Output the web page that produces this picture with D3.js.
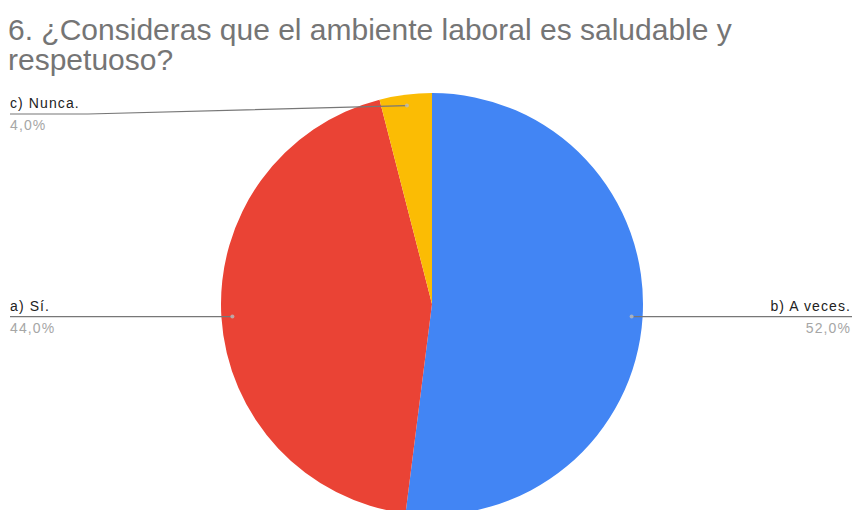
<!DOCTYPE html>
<html>
<head>
<meta charset="utf-8">
<script src="https://cdn.jsdelivr.net/npm/d3@7"></script>
<style>
  html, body { margin: 0; padding: 0; background: #fff; }
  svg { display: block; font-family: "Liberation Sans", Arial, sans-serif; }
</style>
</head>
<body>
<svg id="chart" width="857" height="510"></svg>
<script>
// Survey answers, in drawing order (clockwise from 12 o'clock)
const categories = ["b) A veces.", "a) Sí.", "c) Nunca."];
const percentages = [52.0, 44.0, 4.0];
const colors = ["#4285F4", "#EA4335", "#FBBC04"];
const titleLines = ["6. ¿Consideras que el ambiente laboral es saludable y", "respetuoso?"];

const W = 857, H = 510;
const svg = d3.select("#chart");

// Title, two lines
titleLines.forEach((line, i) => {
  svg.append("text")
    .attr("x", 8).attr("y", 40 + i * 30)
    .attr("fill", "#757575")
    .attr("font-size", 30)
    .text(line);
});

const cx = 432, cy = 304, r = 211;
const data = categories.map((c, i) => ({ label: c, value: percentages[i], color: colors[i] }));

const pie = d3.pie().value(d => d.value).sort(null);
const arc = d3.arc().innerRadius(0).outerRadius(r);
const arcs = pie(data);

const g = svg.append("g").attr("transform", `translate(${cx},${cy})`);
g.selectAll("path.slice").data(arcs).join("path")
  .attr("class", "slice")
  .attr("d", arc)
  .attr("fill", d => d.data.color);

// Leader points sit just inside the rim at each slice's mid angle
const dotR = r - 11;
const fmt = v => d3.format(".1f")(v).replace(".", ",") + "%";

arcs.forEach(a => {
  const mid = (a.startAngle + a.endAngle) / 2;
  const px = cx + dotR * Math.sin(mid);
  const py = cy - dotR * Math.cos(mid);
  const right = Math.sin(mid) > 0;
  const top = Math.cos(mid) > 0.5;

  let lineY, pts, tx, anchor;
  if (top) {
    lineY = 114;
    pts = [[10, lineY], [88, lineY], [px, py]];
    tx = 10; anchor = "start";
  } else {
    lineY = py;
    pts = right ? [[px, py], [852, lineY]] : [[10, lineY], [px, py]];
    tx = right ? 851 : 10;
    anchor = right ? "end" : "start";
  }

  svg.append("path")
    .attr("d", d3.line()(pts))
    .attr("fill", "none")
    .attr("stroke", "#777")
    .attr("stroke-width", 1.2);

  svg.append("circle")
    .attr("cx", px).attr("cy", py).attr("r", 2)
    .attr("fill", "#bbb").attr("opacity", 0.8);

  svg.append("text")
    .attr("x", tx).attr("y", lineY - 6)
    .attr("text-anchor", anchor)
    .attr("font-size", 14)
    .attr("letter-spacing", 1.1)
    .attr("fill", "#222")
    .text(a.data.label);

  svg.append("text")
    .attr("x", tx).attr("y", lineY + 16)
    .attr("text-anchor", anchor)
    .attr("font-size", 14)
    .attr("letter-spacing", 1.1)
    .attr("fill", "#a6a6a6")
    .text(fmt(a.data.value));
});
</script>
</body>
</html>
